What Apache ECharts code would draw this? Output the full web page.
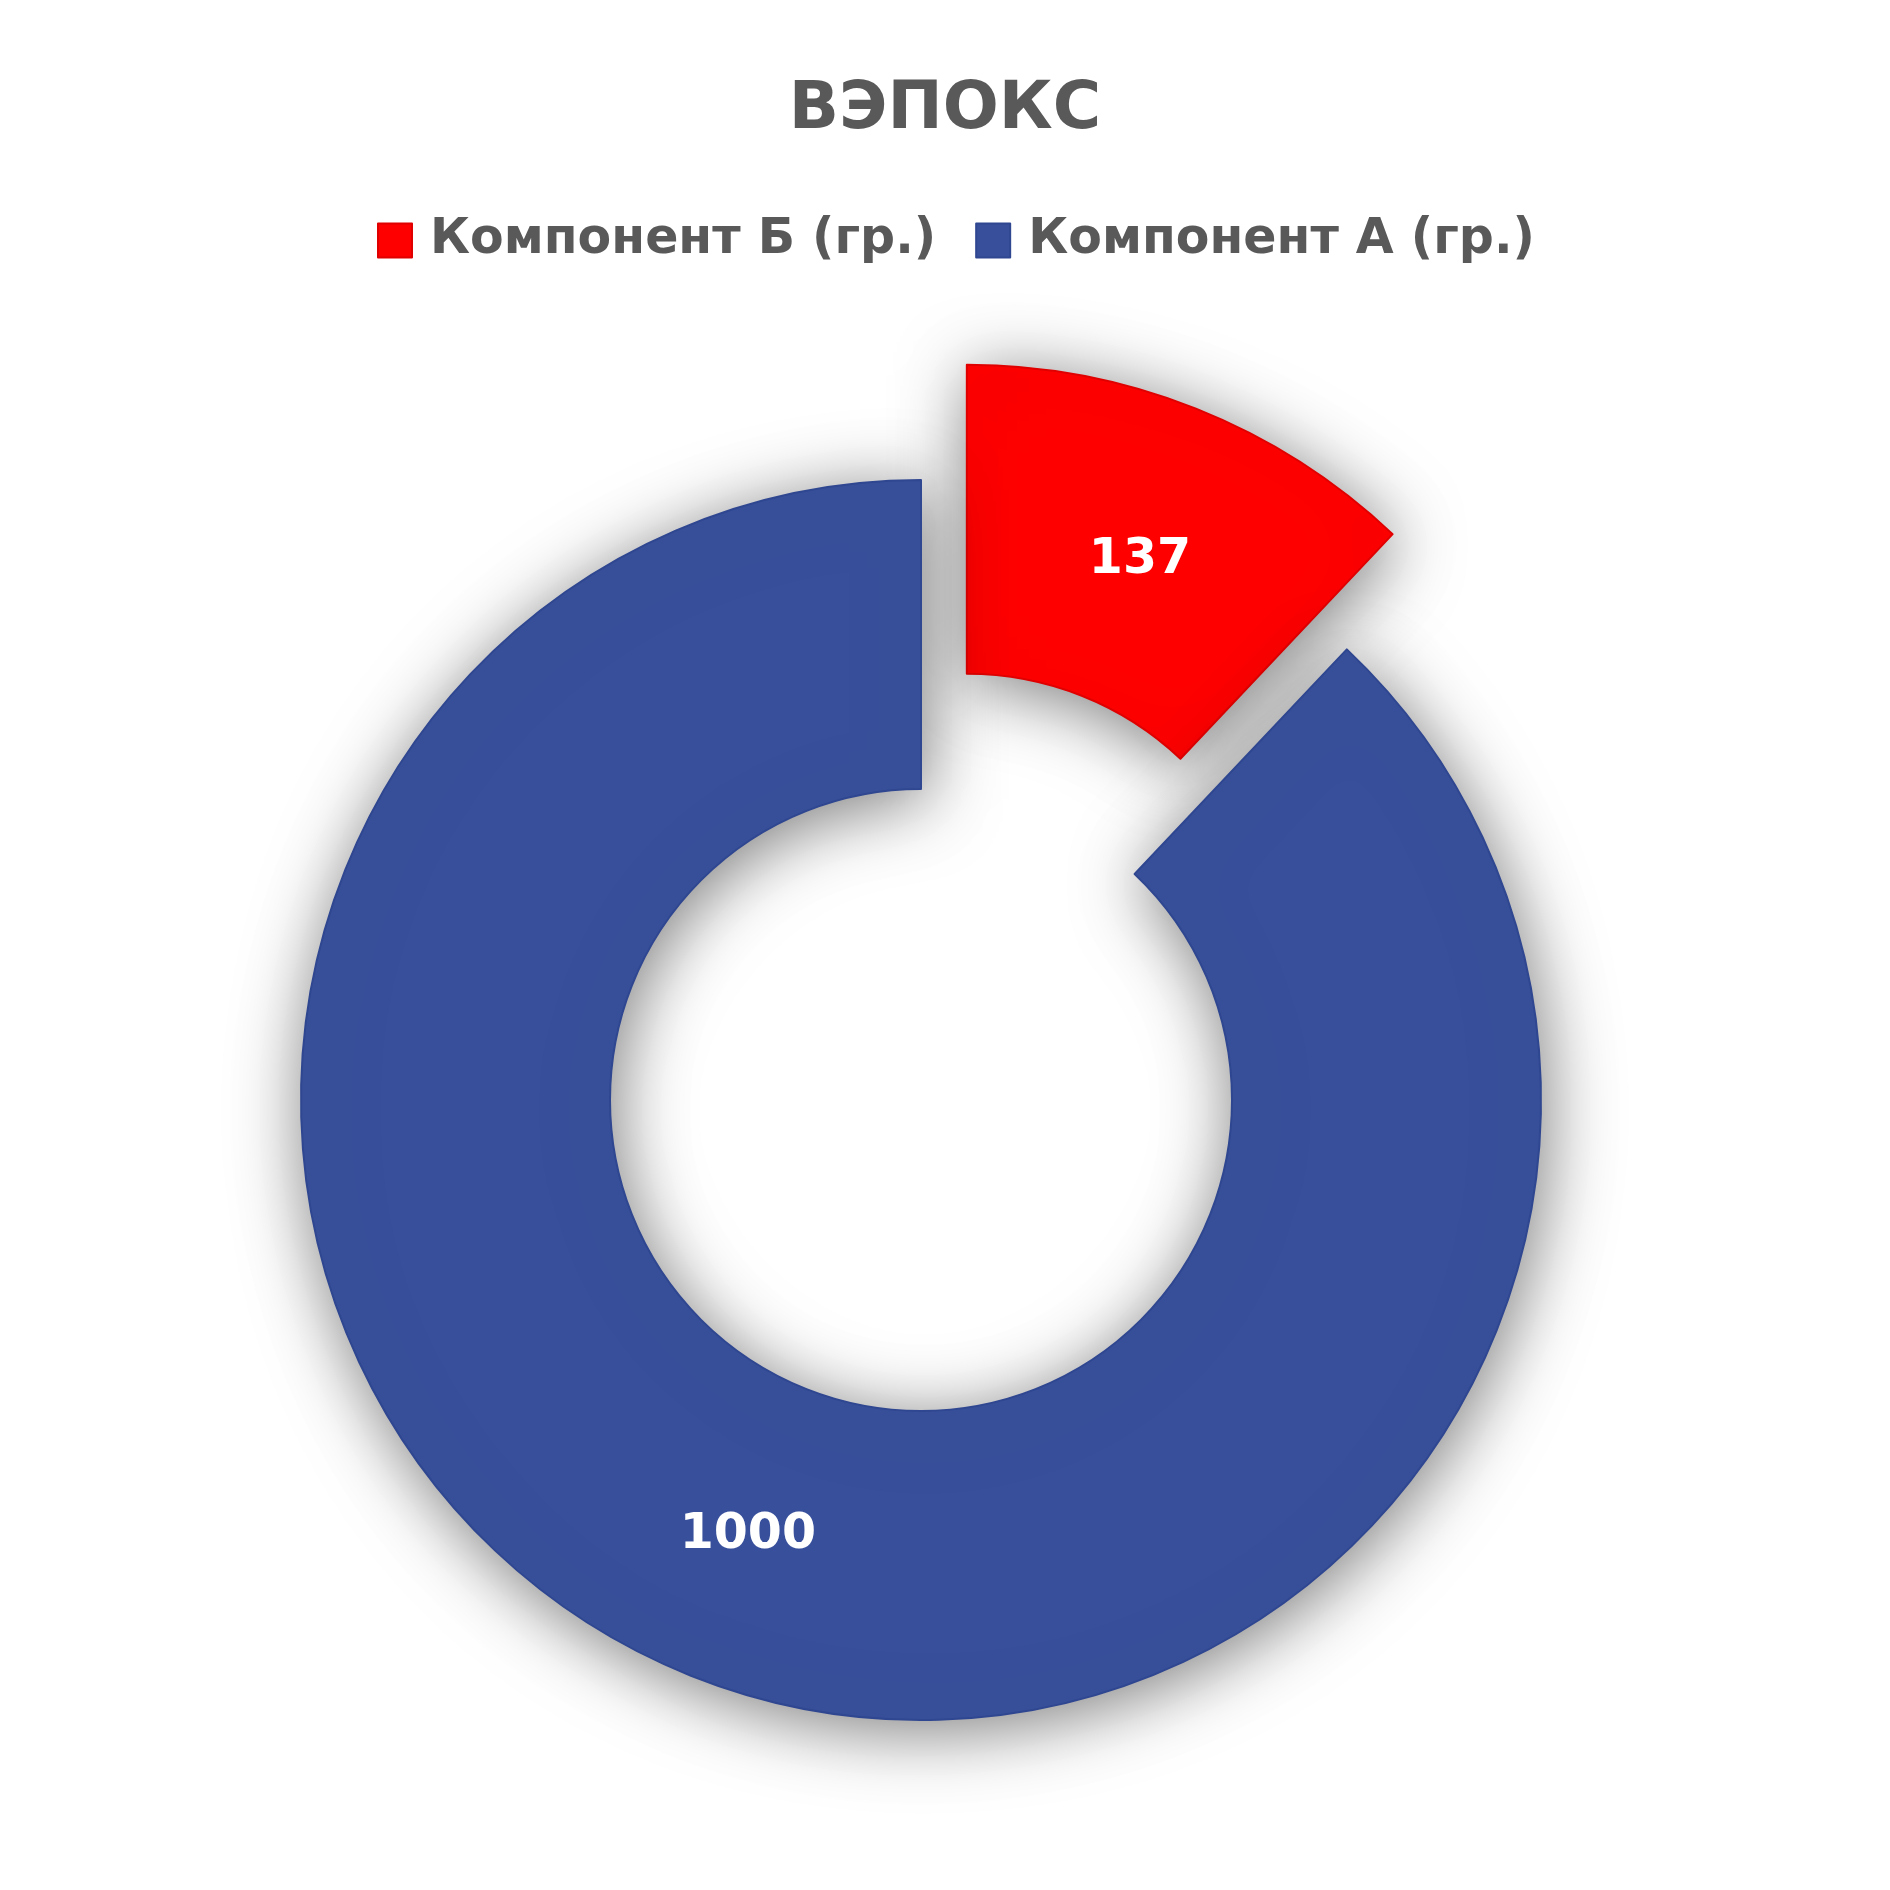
<!DOCTYPE html>
<html>
<head>
<meta charset="utf-8">
<script src="https://cdn.jsdelivr.net/npm/echarts@6/dist/echarts.min.js"></script>
<style>
html,body{margin:0;padding:0;background:#fff;}
#chart{width:1890px;height:1890px;}
</style>
</head>
<body>
<div id="chart"></div>
<script>
const titleText = 'ВЭПОКС';
const categories = ['Компонент Б (гр.)', 'Компонент А (гр.)'];
const values = [137, 1000];
const colors = ['#ff0000', '#38509b'];
const borderColors = ['#e00000', '#2f4690'];
const explodedIndex = 0;

const FONT = '"DejaVu Sans", sans-serif';
const chart = echarts.init(document.getElementById('chart'), null, {renderer: 'canvas'});

const data = categories.map((name, i) => ({
  name: name,
  value: values[i],
  selected: i === explodedIndex,
  itemStyle: { color: colors[i], borderColor: borderColors[i], borderWidth: 2 }
}));

chart.setOption({
  backgroundColor: '#ffffff',
  animation: false,
  title: {
    text: titleText,
    left: 'center',
    top: 73,
    textStyle: { fontFamily: FONT, fontSize: 66, fontWeight: 'bold', color: '#595959' }
  },
  legend: {
    data: categories,
    left: 372,
    top: 211,
    itemWidth: 34,
    itemHeight: 34,
    itemGap: 39,
    icon: 'rect',
    selectedMode: false,
    textStyle: { fontFamily: FONT, fontSize: 49, fontWeight: 'bold', color: '#595959', padding: [0, 0, 0, 13] }
  },
  series: [{
    type: 'pie',
    center: [921, 1100],
    radius: [311, 620],
    startAngle: 90,
    clockwise: true,
    selectedMode: 'single',
    selectedOffset: 124,
    avoidLabelOverlap: false,
    emphasis: { disabled: true },
    itemStyle: {
      shadowBlur: 70,
      shadowColor: 'rgba(0,0,0,0.5)',
      shadowOffsetX: 4,
      shadowOffsetY: 10
    },
    label: {
      show: true,
      position: 'inside',
      formatter: '{c}',
      fontFamily: FONT,
      fontSize: 49,
      fontWeight: 'bold',
      color: '#ffffff'
    },
    labelLayout: function (params) {
      return params.dataIndex === explodedIndex ? { dy: 11 } : { dy: 0 };
    },
    labelLine: { show: false },
    data: data
  }]
});
</script>
</body>
</html>
